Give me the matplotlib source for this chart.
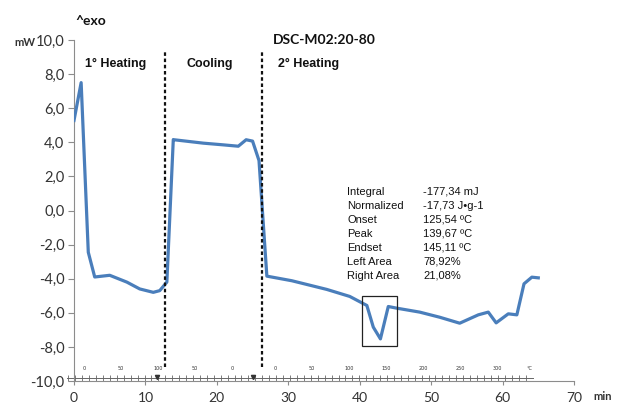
import matplotlib
matplotlib.use("Agg")
import matplotlib.pyplot as plt
from matplotlib.patches import Rectangle
import numpy as np

# ---- data ----
time_min = [0.0, 1.0, 2.0, 2.9, 5.0, 7.4, 9.2, 11.1, 12.0, 13.0, 13.9,
            14.0, 18.1, 20.9, 23.0, 24.1, 25.0, 25.9, 27.0, 30.5, 35.4,
            38.6, 41.0, 41.9, 42.9, 44.0, 45.2, 48.4, 51.2, 54.0, 56.6,
            58.0, 59.1, 60.8, 62.0, 63.0, 64.1, 65.0]
heat_flow = [5.28, 7.5, -2.45, -3.9, -3.8, -4.2, -4.6, -4.8, -4.7, -4.2, 4.16,
             4.15, 3.95, 3.85, 3.77, 4.15, 4.07, 2.93, -3.85, -4.12, -4.63,
             -5.04, -5.57, -6.84, -7.53, -5.63, -5.73, -5.96, -6.26, -6.61, -6.12,
             -5.96, -6.59, -6.06, -6.12, -4.3, -3.91, -3.95]

yticks = [-10, -8, -6, -4, -2, 0, 2, 4, 6, 8, 10]
ytick_labels = ["-10,0", "-8,0", "-6,0", "-4,0", "-2,0", "0,0", "2,0", "4,0", "6,0", "8,0", "10,0"]
xticks = [0, 10, 20, 30, 40, 50, 60, 70]

segment_bounds = [12.7, 26.3]
segment_names = ["1° Heating", "Cooling", "2° Heating"]
segment_label_x = [1.5, 15.8, 28.5]

stat_names = ["Integral", "Normalized", "Onset", "Peak", "Endset", "Left Area", "Right Area"]
stat_values = ["-177,34 mJ", "-17,73 J\u2022g-1", "125,54 ºC", "139,67 ºC", "145,11 ºC", "78,92%", "21,08%"]

# temperature ruler segments: (t_start, t_end, T_start, T_end, labels)
ruler_segments = [
    (1.4, 11.76, 0, 100, [0, 50, 100]),
    (11.76, 22.1, 100, 0, [50, 0]),
    (28.1, 59.2, 0, 300, [0, 50, 100, 150, 200, 250, 300]),
]
ruler_markers_t = [11.6, 25.1]

peak_box = (40.3, 45.2, -7.92, -5.03)

# ---- figure ----
fig = plt.figure(figsize=(6.17, 4.08), dpi=100)
ax = fig.add_axes([74/617, 27/408, 500/617, 341/408])
ax.set_xlim(0, 70)
ax.set_ylim(-10, 10)
ax.patch.set_alpha(0)

line_color = "#4a7ebb"
ax.plot(time_min, heat_flow, color=line_color, lw=2.3, solid_joinstyle="round", zorder=3)

for b in segment_bounds:
    ax.plot([b, b], [-9.2, 9.4], color="#111111", lw=1.6, ls=(0, (1.6, 1.2)), zorder=4)

for name, x in zip(segment_names, segment_label_x):
    ax.text(x, 8.6, name, fontsize=9, fontweight="bold", family="Liberation Sans",
            color="#111111", va="center", ha="left")

# spines & ticks
for s in ["top", "right"]:
    ax.spines[s].set_visible(False)
ax.spines["left"].set_color("#8c8c8c")
ax.spines["bottom"].set_color("#8c8c8c")
ax.spines["left"].set_linewidth(0.8)
ax.spines["bottom"].set_linewidth(0.8)
ax.set_yticks(yticks)
ax.set_yticklabels(ytick_labels)
ax.set_xticks(xticks)
ax.set_xticklabels([str(v) for v in xticks])
ax.tick_params(axis="y", length=4, width=0.8, color="#8c8c8c", labelsize=10.5, pad=3,
               labelcolor="#333333")
ax.tick_params(axis="x", length=3, width=0.8, color="#8c8c8c", labelsize=10, pad=5,
               labelcolor="#333333")
for lab in ax.get_xticklabels() + ax.get_yticklabels():
    lab.set_family("Lato")

# temperature ruler
ry = -9.82
ax.plot([-1.0, 64.3], [ry, ry], color="#666666", lw=0.7, clip_on=False, zorder=2)
tt = np.arange(-0.8, 64.0, 0.97)
ax.plot(tt, np.full_like(tt, ry), ls="none", marker="|", ms=4, mew=0.6,
        color="#666666", clip_on=False, zorder=2)
for t0, t1, T0, T1, labs in ruler_segments:
    for T in labs:
        t = t0 + (t1 - t0) * (T - T0) / (T1 - T0)
        ax.text(t, -9.25, str(T), fontsize=3.5, ha="center", va="center", color="#333333")
ax.text(63.7, -9.25, "°C", fontsize=3.5, ha="center", va="center", color="#333333")
ax.plot(ruler_markers_t, [ry + 0.05] * len(ruler_markers_t), ls="none", marker="v",
        ms=3, color="#333333", clip_on=False, zorder=3)

# peak box
x0, x1, y0, y1 = peak_box
ax.add_patch(Rectangle((x0, y0), x1 - x0, y1 - y0, fill=False, ec="#222222", lw=0.9, zorder=5))

# stats text
for i, (n, v) in enumerate(zip(stat_names, stat_values)):
    yy = 192 + 14 * i
    fig.text(347/617, 1 - yy/408, n, fontsize=8, family="Liberation Sans",
             color="#111111", va="center", ha="left")
    fig.text(423/617, 1 - yy/408, v, fontsize=8, family="Liberation Sans",
             color="#111111", va="center", ha="left")

# titles/labels
fig.text(273/617, 1 - 40/408, "DSC-M02:20-80", fontsize=10, fontweight="bold",
         family="Lato", color="#111111", va="center", ha="left")
fig.text(75/617, 1 - 21/408, "^exo", fontsize=10, fontweight="bold",
         family="Lato", color="#111111", va="center", ha="left")
fig.text(14/617, 1 - 42/408, "mW", fontsize=8, fontweight="bold",
         family="Lato", color="#333333", va="center", ha="left")
fig.text(593/617, 1 - 396/408, "min", fontsize=8, fontweight="bold",
         family="Lato", color="#333333", va="center", ha="left")

fig.savefig("out.png", dpi=100)
